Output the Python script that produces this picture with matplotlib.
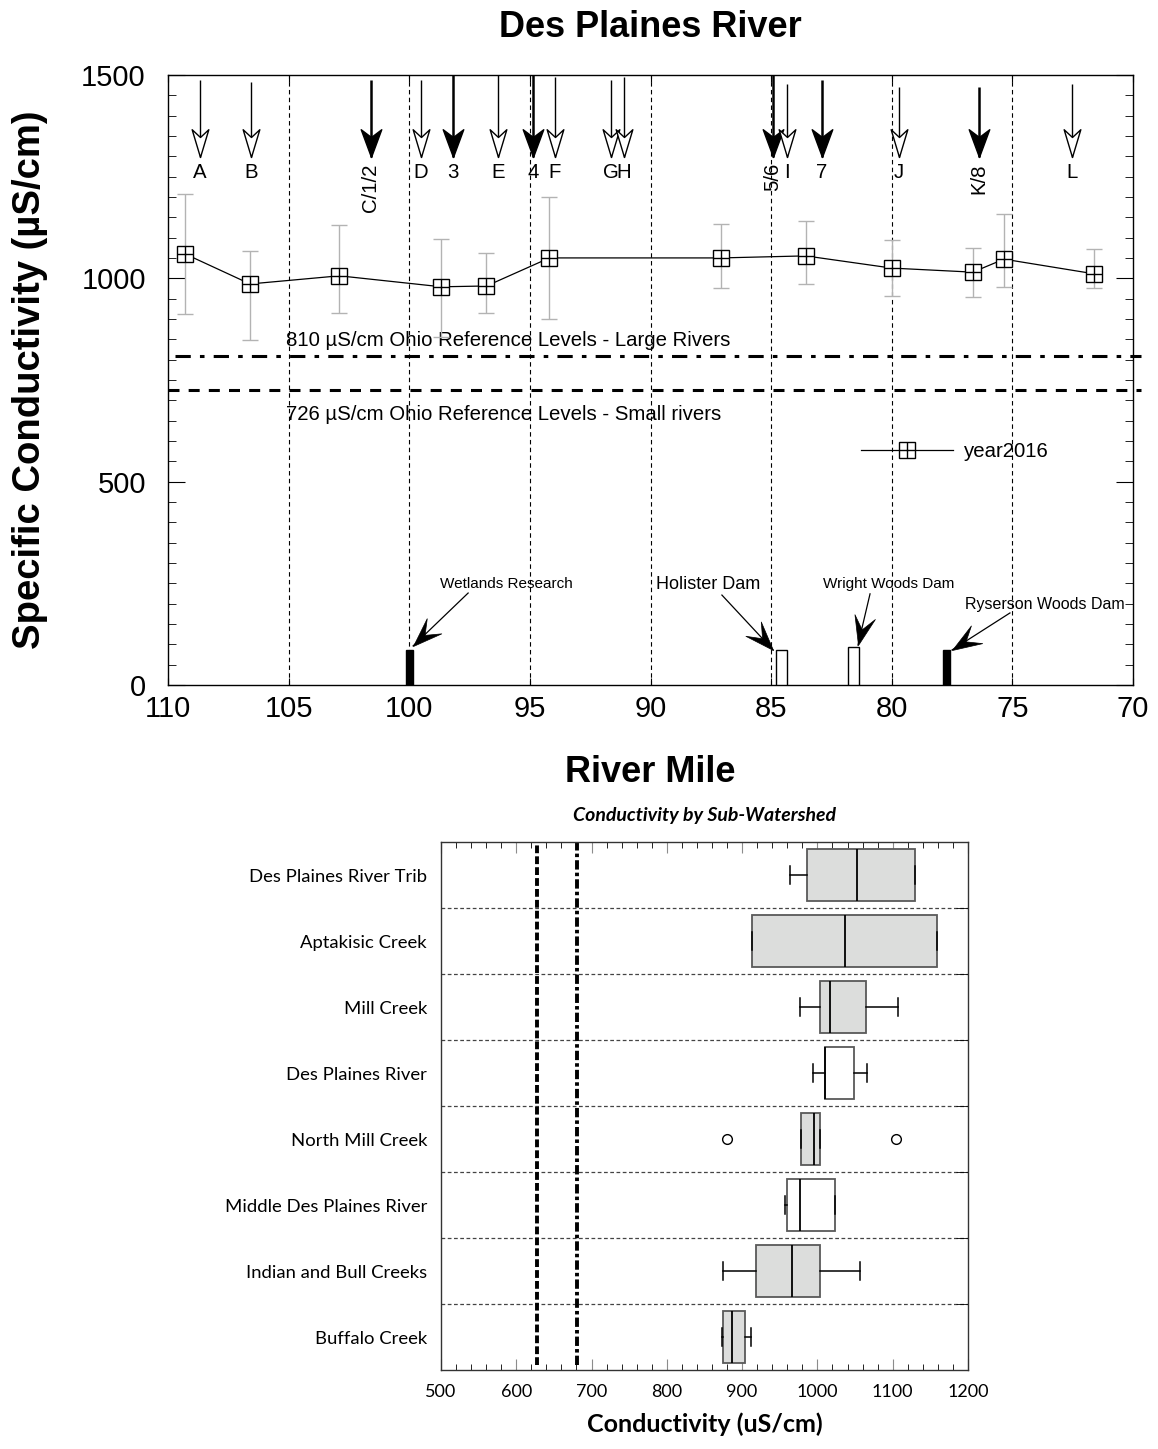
import numpy as np
import matplotlib
matplotlib.use('Agg')
import matplotlib.pyplot as plt
from matplotlib.path import Path
from matplotlib.markers import MarkerStyle
from matplotlib.transforms import Affine2D
from matplotlib.lines import Line2D
from matplotlib.legend_handler import HandlerTuple
from matplotlib.ticker import MultipleLocator

plt.rcParams['font.family'] = ['Liberation Sans', 'DejaVu Sans']

# --- river profile (top chart) ---
site_mile = [109.3, 106.6, 102.9, 98.67, 96.8, 94.19, 87.07, 83.57, 80.0, 76.64, 75.35, 71.62]
site_cond = [1060, 986, 1006, 979, 981, 1050, 1050, 1055, 1025, 1015, 1047, 1011]
cond_max = [1207, 1067, 1131, 1097, 1062, 1200, 1133, 1141, 1094, 1075, 1158, 1072]
cond_min = [912, 848, 915, 856, 915, 900, 976, 986, 957, 954, 979, 976]

ref_large = 810
ref_small = 726

arrow_labels = ['A', 'B', 'C/1/2', 'D', '3', 'E', '4', 'F', 'G', 'H',
                '5/6', 'I', '7', 'J', 'K/8', 'L']
arrow_mile = [108.67, 106.56, 101.59, 99.51, 98.19, 96.32, 94.87, 93.96,
              91.64, 91.10, 84.92, 84.34, 82.89, 79.70, 76.38, 72.53]
arrow_top = [1488, 1483, 1488, 1488, 1500, 1500, 1500, 1495,
             1488, 1495, 1500, 1478, 1488, 1470, 1470, 1478]
arrow_tip = 1298

dam_names = ['Wetlands Research', 'Holister Dam', 'Wright Woods Dam', 'Ryserson Woods Dam']
dam_mile = [100.0, 84.57, 81.59, 77.73]
dam_height = [86, 86, 93, 86]

# --- sub-watershed box plot (bottom chart) ---
sheds = ['Des Plaines River Trib', 'Aptakisic Creek', 'Mill Creek', 'Des Plaines River',
         'North Mill Creek', 'Middle Des Plaines River', 'Indian and Bull Creeks', 'Buffalo Creek']
shed_q1 = [986, 913, 1003, 1010, 978, 960, 919, 874]
shed_med = [1052, 1036, 1017, 1010, 995, 977, 966, 886]
shed_q3 = [1130, 1159, 1065, 1048, 1004, 1023, 1004, 904]
shed_lo = [963, 913, 977, 994, 978, 957, 874, 873]
shed_hi = [1130, 1159, 1107, 1066, 1004, 1023, 1056, 912]
shed_fliers = [[], [], [], [], [880, 1105], [], [], []]
ref_low_a = 627
ref_low_b = 681


def head_marker(half_width, notch):
    # arrowhead with its tip at the origin, pointing down
    verts = [(0, 0), (-half_width, 1), (0, notch), (half_width, 1), (0, 0)]
    codes = [Path.MOVETO, Path.LINETO, Path.LINETO, Path.LINETO, Path.CLOSEPOLY]
    return Path(verts, codes)


open_head = head_marker(0.3, 0.72)
solid_head = head_marker(0.37, 0.72)
pointer_head = head_marker(0.36, 0.55)

fig = plt.figure(figsize=(11.58, 14.49), dpi=100)

ax = fig.add_axes([0.1451, 0.5273, 0.8333, 0.4210])
ax.set_xlim(110, 70)
ax.set_ylim(0, 1500)

for m in range(105, 70, -5):
    ax.axvline(m, color='black', lw=0.8, ls=(0, (4, 3)), zorder=1)

ax.axhline(ref_large, xmin=0.007, xmax=1.008, color='black', lw=2.2,
           ls=(0, (5, 3, 1.5, 3)), clip_on=False, zorder=2)
ax.axhline(ref_small, xmin=0.0, xmax=1.008, color='black', lw=2.2,
           ls=(0, (3.6, 3)), clip_on=False, zorder=2)
ax.text(105.1, ref_large + 38, f'{ref_large} µS/cm Ohio Reference Levels - Large Rivers',
        ha='left', va='center', fontsize=14.7)
ax.text(105.1, ref_small - 60, f'{ref_small} µS/cm Ohio Reference Levels - Small rivers',
        ha='left', va='center', fontsize=14.7)

cond = np.array(site_cond)
yerr = [cond - np.array(cond_min), np.array(cond_max) - cond]
ax.errorbar(site_mile, site_cond, yerr=yerr, fmt='none', ecolor='#b3b3b3',
            elinewidth=1, capsize=5.5, capthick=1, zorder=3)
ax.plot(site_mile, site_cond, '-', color='black', lw=0.9, marker='s', ms=11.5,
        mfc='white', mec='black', mew=1, zorder=4)
ax.plot(site_mile, site_cond, ls='none', marker='+', ms=11.5, mec='black', mew=1, zorder=5)

h_sq = Line2D([], [], color='black', lw=0.9, marker='s', ms=11.5, mfc='white', mec='black')
h_pl = Line2D([], [], ls='none', marker='+', ms=11.5, mec='black', mew=1)
ax.legend([(h_sq, h_pl)], ['year2016'], handler_map={tuple: HandlerTuple(ndivide=1)},
          loc='center left', bbox_to_anchor=(0.718, 0.382), frameon=False, fontsize=14.7,
          handlelength=4.5, handletextpad=0.55, borderpad=0, borderaxespad=0)

# sampling site arrows (numbers = filled heads)
for lab, m, top in zip(arrow_labels, arrow_mile, arrow_top):
    filled = any(ch.isdigit() for ch in lab)
    ax.plot([m, m], [top, arrow_tip], color='black', lw=1.8 if filled else 1,
            solid_capstyle='butt', zorder=6)
    ax.plot([m], [arrow_tip], ls='none', ms=40, mew=1, mec='black',
            marker=solid_head if filled else open_head,
            mfc='black' if filled else 'white', zorder=7)
    ax.text(m, 1283, lab, ha='center', va='top', fontsize=14.7,
            rotation=90 if '/' in lab else 0)

# dams
dam_fill = ['black', 'white', 'white', 'black']
dam_width = [0.27, 0.45, 0.45, 0.3]
ax.bar(dam_mile, dam_height, width=dam_width, color=dam_fill, edgecolor='black',
       lw=1, zorder=4)

# pointer label layout: text centre, shaft start, tip
pointer_layout = [
    ((95.99, 248), (97.56, 226), (99.84, 96), 11),
    ((87.62, 248), (87.04, 221), (84.92, 86), 13),
    ((80.11, 248), (80.90, 224), (81.40, 98), 11),
    ((73.65, 197), (75.10, 177), (77.50, 86), 11.5),
]
for name, (txt, start, tip, fs) in zip(dam_names, pointer_layout):
    ax.text(*txt, name, ha='center', va='center', fontsize=fs, zorder=8)
    ax.plot([start[0], tip[0]], [start[1], tip[1]], color='black', lw=0.9, zorder=6)
    p0 = ax.transData.transform(start)
    p1 = ax.transData.transform(tip)
    d = p1 - p0
    ang = np.degrees(np.arctan2(d[1], d[0])) + 90
    mk = MarkerStyle(pointer_head, transform=Affine2D().rotate_deg(ang))
    ax.plot([tip[0]], [tip[1]], ls='none', marker=mk, ms=42, mfc='black',
            mec='black', mew=0.5, zorder=7)

ax.set_xticks(range(110, 69, -5))
ax.yaxis.set_major_locator(MultipleLocator(500))
ax.yaxis.set_minor_locator(MultipleLocator(50))
ax.tick_params(axis='both', which='both', direction='in', top=True, right=True)
ax.tick_params(axis='y', which='major', length=12, labelsize=21, pad=16)
ax.tick_params(axis='y', which='minor', length=6)
ax.tick_params(axis='x', which='major', length=5, labelsize=21, pad=7)
for s in ax.spines.values():
    s.set_linewidth(1)

fig.text(0.5613, 0.9807, 'Des Plaines River', ha='center', va='center',
         fontsize=26, weight='bold')
fig.text(0.026, 0.7377, 'Specific Conductivity (µS/cm)', ha='center', va='center',
         rotation=90, fontsize=27.5, weight='bold')
fig.text(0.5613, 0.4672, 'River Mile', ha='center', va='center', fontsize=26, weight='bold')

# --- bottom box plot ---
ax2 = fig.add_axes([0.3808, 0.0545, 0.4551, 0.3644])
stats = []
for i, name in enumerate(sheds):
    stats.append(dict(label=name, q1=shed_q1[i], med=shed_med[i], q3=shed_q3[i],
                      whislo=shed_lo[i], whishi=shed_hi[i], fliers=shed_fliers[i]))
pos = np.arange(len(sheds))
bp = ax2.bxp(stats, positions=pos, widths=0.8, orientation='horizontal',
             patch_artist=True, capwidths=0.26, manage_ticks=False,
             boxprops=dict(edgecolor='#595959', lw=1.3),
             medianprops=dict(color='black', lw=1.3),
             whiskerprops=dict(color='black', lw=1.1),
             capprops=dict(color='black', lw=1.1),
             flierprops=dict(marker='o', mfc='white', mec='black', ms=7, mew=1))
box_fill = ['#dcdddc', '#dcdddc', '#dcdddc', 'white', '#dcdddc', 'white', '#dcdddc', '#dcdddc']
for patch, fc in zip(bp['boxes'], box_fill):
    patch.set_facecolor(fc)
    patch.set_zorder(3)
for art in bp['medians'] + bp['whiskers'] + bp['caps']:
    art.set_zorder(4)

ax2.set_xlim(500, 1200)
ax2.set_ylim(len(sheds) - 0.5, -0.5)
bounds = np.arange(0.5, len(sheds) - 1)
for b in bounds:
    ax2.axhline(b, color='#444444', lw=0.9, ls=(0, (3, 2)), zorder=1)
ax2.axvline(ref_low_a, ymin=0.01, ymax=0.998, color='black', lw=2.8,
            ls=(0, (2, 0.8)), zorder=2)
ax2.axvline(ref_low_b, ymin=0.01, ymax=0.998, color='black', lw=2.8,
            ls=(0, (2.4, 0.8, 0.9, 0.8)), zorder=2)

ax2.set_yticks(pos, sheds)
ax2.set_yticks(bounds, minor=True)
ax2.xaxis.set_major_locator(MultipleLocator(100))
ax2.xaxis.set_minor_locator(MultipleLocator(20))
ax2.tick_params(axis='x', which='major', direction='in', top=True, length=8,
                color='#8c8c8c', labelsize=13, pad=10)
ax2.tick_params(axis='x', which='minor', direction='in', top=True, length=4)
ax2.tick_params(axis='y', which='major', length=0, pad=10, labelsize=13.3)
ax2.tick_params(axis='y', which='minor', left=False, right=True, direction='in', length=9)
for lbl in ax2.get_xticklabels() + ax2.get_yticklabels():
    lbl.set_family(['Lato', 'DejaVu Sans'])
for s in ax2.spines.values():
    s.set_color('#333333')
    s.set_linewidth(1)

fig.text(0.6084, 0.4375, 'Conductivity by Sub-Watershed', ha='center', va='center',
         fontsize=14, weight='bold', style='italic', family=['Lato', 'DejaVu Sans'])
fig.text(0.6084, 0.0173, 'Conductivity (uS/cm)', ha='center', va='center',
         fontsize=18, weight='bold', family=['Lato', 'DejaVu Sans'])

fig.savefig('out.png', dpi=100)
